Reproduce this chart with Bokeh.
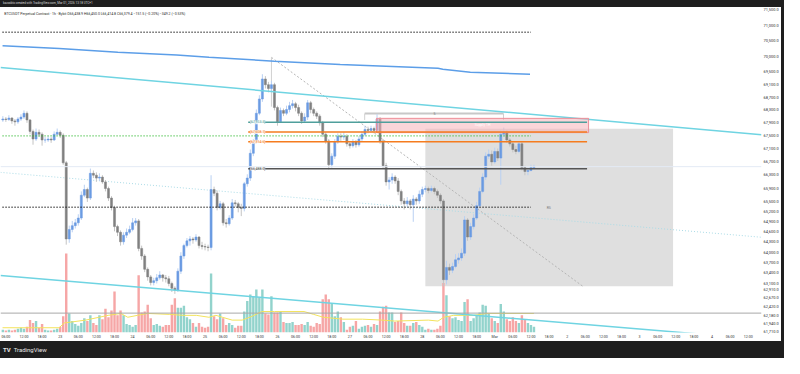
from bokeh.plotting import figure
from bokeh.models import (Range1d, LinearScale, FixedTicker, NumeralTickFormatter,
                          Label, Div, ColumnDataSource, Span)
from bokeh.layouts import column, row
from bokeh.embed import file_html
from bokeh.resources import INLINE

# ---------------- data (hourly BTCUSDT candles, hours after 2026-02-22 00:00 UTC+1) -------------
first_hour = 5
first_open = 67985
closes = [68015, 68000, 68044, 67955, 67926, 68015, 68074, 68193, 67985, 67630,
          67395, 67601, 67542, 67366, 67366, 67395, 67366, 67542, 67601, 67513,
          66665, 64385, 64665, 64778, 64862, 65003, 65686, 65857, 65600, 66346,
          66289, 66202, 66231, 66087, 65886, 65600, 65315, 64750, 64581, 64301,
          64497, 64581, 64665, 64862, 64919, 64106, 63884, 63497, 63278, 63114,
          63168, 63251, 63333, 63251, 63223, 63087, 62951, 62896, 63442, 63884,
          64189, 64329, 64385, 64357, 64441, 64189, 64162, 64148, 64134, 65857,
          65743, 65315, 65429, 64862, 64834, 65003, 65457, 65429, 65315, 65287,
          66030, 66202, 66956, 67307, 68193, 68640, 69271, 69090, 68970, 69090,
          68371, 67926, 68282, 68193, 68312, 68431, 68491, 68371, 68193, 67955,
          68074, 68520, 68312, 68193, 68104, 67896, 67542, 67336, 66607, 66868,
          67307, 67483, 67454, 67483, 67248, 67190, 67307, 67219, 67395, 67542,
          67689, 67660, 67719, 67660, 68015, 67336, 66578, 66087, 66144, 66231,
          66116, 65800, 65514, 65429, 65514, 65400, 65571, 65514, 65714, 65857,
          65886, 65828, 65886, 65800, 65686, 65514, 63196, 63552, 63470, 63580,
          63773, 63828, 63967, 64947, 64441, 64750, 65003, 65372, 65800, 66231,
          66868, 66927, 66694, 67014, 66810, 67542, 67601, 67366, 67248, 67073,
          67014, 67248, 66520, 66404, 66433, 66520, 66549]
highs = [68104, 68074, 68133, 68074, 68015, 68074, 68163, 68282, 68252, 68015,
         67689, 67719, 67689, 67601, 67454, 67483, 67454, 67630, 67719, 67660,
         67571, 66723, 64778, 64919, 64975, 65116, 65800, 66001, 65914, 66491,
         66433, 66375, 66346, 66289, 66144, 65943, 65657, 65372, 64806, 64637,
         64581, 64693, 64778, 65003, 65003, 64975, 64189, 63939, 63552, 63333,
         63251, 63360, 63442, 63360, 63333, 63306, 63141, 63005, 63525, 63995,
         64245, 64413, 64469, 64441, 64525, 64469, 64301, 64245, 64217, 66289,
         65943, 65828, 65514, 65485, 64975, 65088, 65571, 65543, 65485, 65429,
         66087, 66317, 67073, 67395, 68312, 68759, 69422, 69361, 69180, 69210,
         69150, 68431, 68371, 68342, 68431, 68550, 68610, 68550, 68461, 68252,
         68193, 68610, 68580, 68371, 68252, 68163, 67955, 67601, 67395, 66956,
         67395, 67571, 67571, 67601, 67542, 67336, 67395, 67366, 67483, 67630,
         67807, 67778, 67807, 67778, 68163, 68074, 67395, 66665, 66231, 66346,
         66289, 66202, 65857, 65600, 65628, 65571, 65686, 65628, 65828, 65943,
         65972, 65943, 65972, 65943, 65857, 65743, 65571, 63745, 63662, 63690,
         63939, 63967, 64106, 65060, 65003, 64862, 65116, 65485, 65914, 66346,
         66985, 67073, 67043, 67131, 67102, 67660, 67748, 67660, 67424, 67307,
         67190, 67336, 67307, 66578, 66520, 66607, 66607]
lows = [67926, 67926, 67955, 67866, 67807, 67866, 67955, 68015, 67896, 67542,
        67219, 67336, 67454, 67190, 67278, 67307, 67278, 67336, 67513, 67424,
        66607, 64217, 64273, 64581, 64693, 64778, 64947, 65628, 65485, 65543,
        66202, 66087, 66116, 66030, 65800, 65514, 65230, 64609, 64469, 64189,
        64217, 64413, 64525, 64609, 64778, 64023, 63773, 63415, 63168, 63032,
        63032, 63087, 63196, 63141, 63114, 63005, 62842, 62788, 62842, 63360,
        63800, 64134, 64189, 64245, 64301, 64106, 64078, 64051, 64023, 64051,
        65657, 65230, 65258, 64778, 64721, 64778, 64947, 65343, 65173, 65060,
        65201, 65943, 66116, 66868, 67248, 68133, 68550, 68970, 68849, 68879,
        68282, 67807, 67896, 68104, 68133, 68223, 68342, 68252, 68104, 67866,
        67896, 67985, 68193, 68104, 68015, 67807, 67454, 67248, 66462, 66520,
        66781, 67248, 67336, 67366, 67161, 67102, 67131, 67131, 67161, 67336,
        67483, 67571, 67601, 67571, 67601, 67248, 66491, 65972, 65857, 66030,
        66030, 65686, 65400, 65258, 65343, 65258, 64891, 65400, 65429, 65628,
        65771, 65743, 65771, 65714, 65600, 65429, 63005, 63059, 63333, 63387,
        63525, 63662, 63745, 63884, 64329, 64357, 64665, 64947, 65315, 65743,
        66144, 66781, 66578, 66636, 66723, 66001, 67454, 67278, 67161, 66985,
        66927, 66956, 66433, 66289, 66289, 66404, 66462]
volumes = [300, 200, 300, 200, 300, 400, 500, 400, 600, 1300,
           1000, 1200, 500, 900, 300, 200, 200, 300, 400, 600,
           1700, 8300, 2000, 1200, 900, 700, 1000, 1500, 1200, 1800,
           1000, 800, 1800, 1400, 2500, 1600, 2300, 4300, 1800, 2300,
           1800, 900, 800, 600, 800, 6000, 2100, 2200, 2900, 1500,
           800, 900, 700, 600, 800, 800, 2900, 3600, 2600, 2600,
           2800, 1600, 1400, 1000, 600, 1000, 600, 500, 600, 6200,
           1700, 1400, 2000, 1500, 800, 1000, 800, 500, 700, 700,
           2200, 3300, 4000, 3800, 4500, 3700, 4500, 2000, 1900, 3800,
           2100, 2100, 2200, 1100, 1000, 1000, 1100, 800, 800, 900,
           800, 1100, 700, 600, 1000, 900, 3500, 4000, 3500, 3000,
           1700, 2200, 1600, 1100, 300, 600, 700, 1200, 400, 600,
           700, 800, 600, 900, 800, 2200, 2700, 2800, 2100, 2100,
           1100, 1200, 2100, 1000, 700, 700, 1000, 1100, 800, 600,
           300, 400, 300, 300, 400, 700, 5200, 3900, 1700, 1500,
           1600, 1300, 1200, 3200, 3500, 1200, 1500, 1800, 2100, 2900,
           2800, 2000, 1500, 1200, 1000, 3000, 2200, 1400, 1200, 1600,
           1200, 1000, 1800, 1400, 1000, 800, 600]

# volume moving average (sampled) and price moving average (sampled)
vol_ma_hours = [4.9, 23.7, 25.3, 32.4, 39.9, 44.1, 46.4, 49.6, 52.9, 60.3, 64.9, 69.1, 73.3,
                75.6, 81.0, 84.3, 87.6, 90.8, 95.0, 104.8, 108.0, 111.2, 117.7, 124.2, 130.7,
                134.9, 146.0, 149.2, 151.1, 154.4, 160.9, 165.4, 181.0]
vol_ma = [500, 500, 1000, 1300, 1800, 2000, 1600, 1800, 2000, 1900, 1800, 1800, 1600,
          1800, 1300, 1300, 1700, 2200, 2200, 2200, 1900, 1600, 1400, 1400, 1300,
          1200, 1300, 1200, 1600, 1800, 1800, 2000, 2000]
ma_hours = [4.9, 23.7, 43.1, 62.6, 73.3, 95.0, 116.8, 149.2, 150.8, 159.9, 179.7]
ma_vals = [70335, 70243, 70121, 70038, 69959, 69837, 69734, 69612, 69582, 69482, 69421]

# drawings
upper_trend = ([4.22, 256.4], [69633, 67530])
lower_trend = ([4.22, 256.4], [63316, 61500])
faint_trend = ([4.22, 256.4], [66375, 64435])
level_top_dotted = 70765
level_green_dotted = 67492
level_low_dotted = 65322
levels_span = (4.9, 180.0)
zone_levels = [67913.5, 67608.1, 67314.6, 66488.0]
zone_colors = ["#4f9f9c", "#f57c1f", "#f57c1f", "#555555"]
zone_span = (86.3, 198.6)
range_box = (145.0, 227.1, 63005, 67710)
supply_box = (128.8, 199.1, 67592, 68035)
measure_level = 68184
measure_span = (124.9, 170.9)
diag = ([94.0, 197.2], [69959, 63005])
vol_pane_level = 62238

price_ticks = [71500, 71000, 70500, 70000, 69500, 69100, 68700, 68300, 67900, 67500,
               67100, 66700, 66300, 65900, 65500, 65200, 64900, 64600, 64300, 64000,
               63700, 63400, 63100, 62910, 62670, 62420, 62180, 61940, 61710]
time_ticks = [6, 12, 18, 24, 30, 36, 42, 48, 54, 60, 66, 72, 78, 84, 90, 96, 102, 108,
              114, 120, 126, 132, 138, 144, 150, 156, 162, 168, 174, 180, 186, 192, 198,
              204, 210, 216, 222, 228, 234, 240, 246, 252]
time_labels = ["06:00", "12:00", "18:00", "23", "06:00", "12:00", "18:00", "24",
               "06:00", "12:00", "18:00", "25", "06:00", "12:00", "18:00", "26",
               "06:00", "12:00", "18:00", "27", "06:00", "12:00", "18:00", "28",
               "06:00", "12:00", "18:00", "Mar", "06:00", "12:00", "18:00", "2",
               "06:00", "12:00", "18:00", "3", "06:00", "12:00", "18:00", "4",
               "06:00", "12:00"]

# ---------------- derived columns ----------------
n = len(closes)
hours = list(range(first_hour, first_hour + n))
opens = [first_open] + closes[:-1]
UP, DOWN = "#6b9be2", "#808080"
UPW, DOWNW = "#b9d0f2", "#c4c4c4"
VUP, VDOWN = "#92d3cc", "#f6a6a6"
is_up = [c >= o for o, c in zip(opens, closes)]
src = ColumnDataSource(dict(
    h=hours, hi=highs, lo=lows, vol=volumes,
    top=[max(o, c) for o, c in zip(opens, closes)],
    bot=[min(o, c) for o, c in zip(opens, closes)],
    col=[UP if u else DOWN for u in is_up],
    wcol=[UPW if u else DOWNW for u in is_up],
    vcol=[VUP if u else VDOWN for u in is_up],
))

FONT = "Roboto"
p = figure(width=781, height=334, x_range=Range1d(4.22, 256.4), y_range=Range1d(61689, 71572),
           y_axis_type="log", y_axis_location="right", output_backend="svg",
           toolbar_location=None, min_border_left=0, min_border_top=0,
           min_border_bottom=8, min_border_right=19, margin=0)
p.outline_line_color = None
p.grid.visible = False
p.background_fill_color = "white"
p.border_fill_color = "white"
p.extra_y_ranges = {"vol": Range1d(0, 34100)}
p.extra_y_scales = {"vol": LinearScale()}

yax = p.yaxis[0]
yax.ticker = FixedTicker(ticks=price_ticks, minor_ticks=[])
yax.formatter = NumeralTickFormatter(format="0,0.0")
yax.major_label_text_font_size = "4px"
yax.major_label_text_font = FONT
yax.major_label_text_color = "#333333"
yax.axis_line_color = None
yax.major_tick_line_color = None
yax.minor_tick_line_color = None
yax.major_tick_out = 0
yax.major_tick_in = 0
yax.major_label_standoff = 2

xax = p.xaxis[0]
xax.ticker = FixedTicker(ticks=time_ticks, minor_ticks=[])
xax.major_label_overrides = {t: l for t, l in zip(time_ticks, time_labels)}
xax.major_label_text_font_size = "3.6px"
xax.major_label_text_font = FONT
xax.major_label_text_color = "#333333"
xax.axis_line_color = None
xax.major_tick_line_color = None
xax.minor_tick_line_color = None
xax.major_tick_out = 0
xax.major_tick_in = 0
xax.major_label_standoff = 2

# range box behind everything
p.quad(left=[range_box[0]], right=[range_box[1]], bottom=[range_box[2]], top=[range_box[3]],
       fill_color="#dcdcdc", fill_alpha=0.9, line_color=None)

# volume
p.vbar(x="h", top="vol", bottom=0, width=0.8, fill_color="vcol", line_color=None,
       y_range_name="vol", source=src)
p.line(vol_ma_hours, vol_ma, line_color="#f3e35c", line_width=1, y_range_name="vol")

# faint lines
p.line(faint_trend[0], faint_trend[1], line_color="#aadbe6", line_width=1, line_dash="1 2")
p.add_layout(Span(location=closes[-1], dimension="width", line_color="#e3eaf5", line_width=1))
p.add_layout(Span(location=vol_pane_level, dimension="width", line_color="#a8a8a8", line_width=1))

# measuring bracket and diagonal
p.line(diag[0], diag[1], line_color="#b5b5b5", line_width=1, line_dash="2 2")
p.line([diag[0][0], diag[0][0]], [diag[1][0], 68400], line_color="#d0d0d0", line_width=1)
p.line([measure_span[0], measure_span[1]], [measure_level, measure_level], line_color="#c8c8c8", line_width=2)
p.line([measure_span[0], measure_span[0]], [measure_level, 67985], line_color="#d0d0d0", line_width=1)
p.line([measure_span[1], measure_span[1]], [measure_level, 67985], line_color="#d0d0d0", line_width=1)

# candles
p.segment(x0="h", y0="lo", x1="h", y1="hi", line_color="wcol", line_width=1, source=src)
p.vbar(x="h", top="top", bottom="bot", width=0.68, fill_color="col", line_color="col",
       line_width=0.5, source=src)

# trend lines and MA
p.line(upper_trend[0], upper_trend[1], line_color="#6fd4e2", line_width=1.5)
p.line(lower_trend[0], lower_trend[1], line_color="#6fd4e2", line_width=1.5)
p.line(ma_hours, ma_vals, line_color="#5c9ee8", line_width=1.5)

# horizontal dotted levels
p.line(list(levels_span), [level_top_dotted] * 2, line_color="#1a1a1a", line_width=1.5, line_dash="1 2")
p.line(list(levels_span), [level_green_dotted] * 2, line_color="#2eb82e", line_width=1.3, line_dash="1 2")
p.line(list(levels_span), [level_low_dotted] * 2, line_color="#1a1a1a", line_width=1.5, line_dash="1 2")

# supply box
p.quad(left=[supply_box[0]], right=[supply_box[1]], bottom=[supply_box[2]], top=[supply_box[3]],
       fill_color="#f6b3ba", fill_alpha=0.55, line_color="#ee8e98", line_width=1)
p.add_layout(Label(x=(supply_box[0] + supply_box[1]) / 2, y=(supply_box[2] + supply_box[3]) / 2,
                   text="Supply 1H", text_font_size="3.5px", text_font=FONT, text_color="white",
                   text_align="center", text_baseline="middle"))

# zone lines with labels
for lvl, colr in zip(zone_levels, zone_colors):
    p.line(list(zone_span), [lvl, lvl], line_color=colr, line_width=1.5)
    p.add_layout(Label(x=zone_span[0] + 0.6, y=lvl, text=f"[{lvl:,.1f}]", text_font_size="3.5px",
                       text_font=FONT, text_color=colr, text_baseline="middle",
                       background_fill_color="white", background_fill_alpha=0.8))

p.add_layout(Label(x=148.0, y=measure_level, text="5", text_font_size="3.5px", text_font=FONT,
                   text_color="#777777", text_align="center", text_baseline="middle"))
p.add_layout(Label(x=185.9, y=65306, text="RS", text_font_size="3.5px", text_font=FONT,
                   text_color="#777777", text_align="center", text_baseline="middle"))

# legend line
p.add_layout(Label(x=5.5, y=71375, text="BTCUSDT Perpetual Contract · 1h · Bybit   O66,438.9  H66,450.0  L66,414.8  C66,379.4  −151.5 (−0.20%)  −349.2 (−0.53%)",
                   text_font_size="3.5px", text_font=FONT, text_color="#2a2a2a", text_baseline="middle"))

# last price marker on the price scale
p.add_layout(Label(x=256.4, y=closes[-1], x_offset=1, y_offset=2.5, text=f"{closes[-1]:,.1f}\n41:35",
                   text_font_size="3.6px", text_font=FONT, text_color="white", text_baseline="top",
                   background_fill_color="#6ea7ec", background_fill_alpha=1.0))

top_bar = Div(text="kazzobtc created with TradingView.com, Mar 01, 2026 13:18 UTC+1", width=784, height=7,
              margin=0, styles={"background-color": "#1e1e1e", "color": "#d8d8d8", "font-size": "3px",
                                "line-height": "7px", "padding-left": "3px", "overflow": "hidden",
                                "font-family": FONT, "box-sizing": "border-box"})
right_bar = Div(text="", width=3, height=334, margin=0,
                styles={"background-color": "#1e1e1e"})
bottom_bar = Div(text="<b>TV</b>&nbsp;&nbsp;TradingView", width=784, height=17, margin=0,
                 styles={"background-color": "#1e1e1e", "color": "#e6e6e6", "font-size": "6px",
                         "line-height": "17px", "padding-left": "3px", "overflow": "hidden",
                         "font-family": FONT, "box-sizing": "border-box"})

layout = column(top_bar, row(p, right_bar, spacing=0, margin=0), bottom_bar, spacing=0, margin=0)
open("out.html", "w").write(file_html(layout, INLINE))
